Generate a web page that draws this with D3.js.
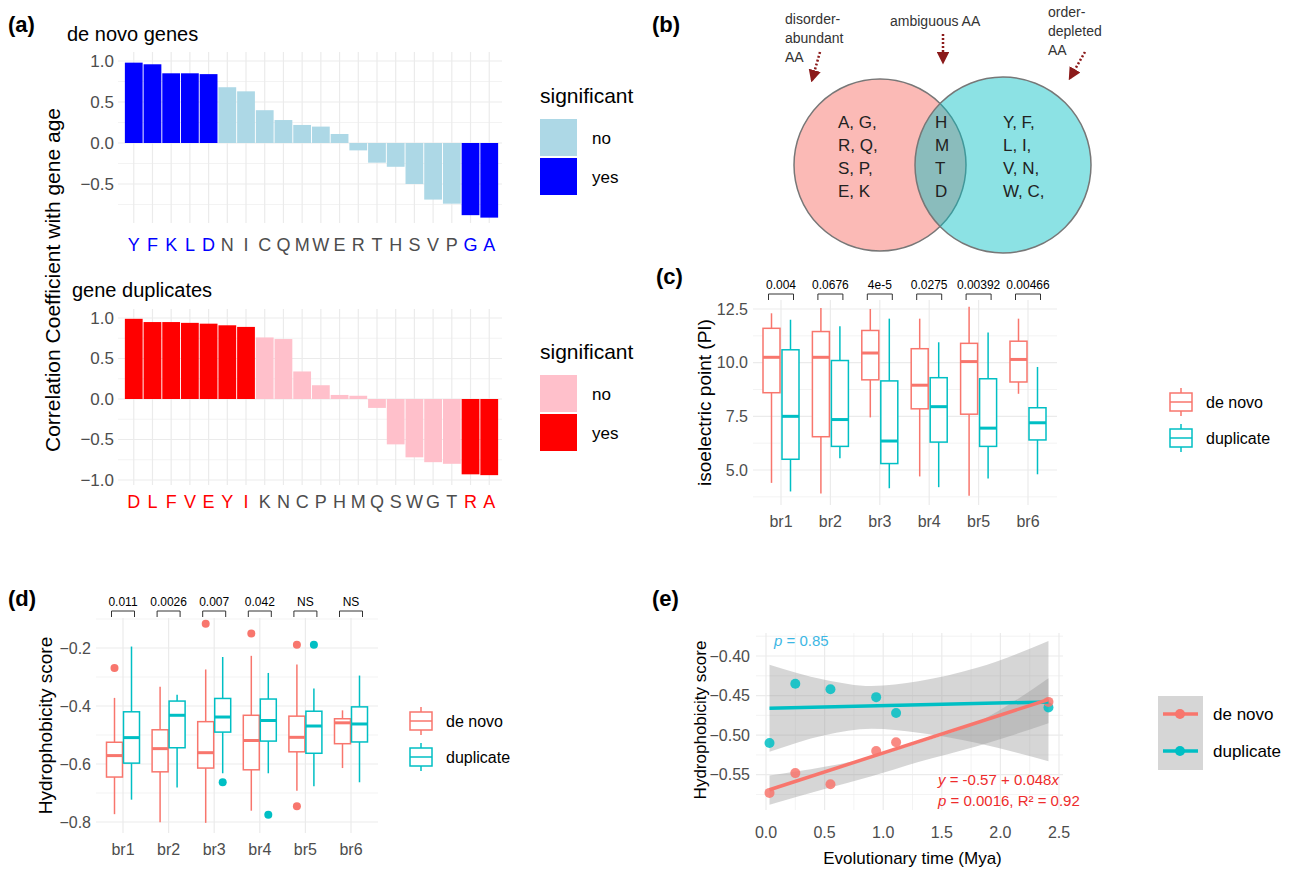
<!DOCTYPE html>
<html><head><meta charset="utf-8">
<script src="https://cdn.jsdelivr.net/npm/d3@7"></script>
<style>
body{margin:0;background:#fff;font-family:"Liberation Sans",Arial,sans-serif;}
.grid line{stroke:#ebebeb;}
</style></head><body>
<svg id="fig" width="1291" height="870"></svg>
<script>
// ---- data ----
const aaNovo = ['Y','F','K','L','D','N','I','C','Q','M','W','E','R','T','H','S','V','P','G','A'];
const corNovo = [0.98,0.96,0.85,0.85,0.84,0.68,0.63,0.40,0.28,0.22,0.20,0.11,-0.09,-0.24,-0.29,-0.50,-0.69,-0.74,-0.88,-0.91];
const sigNovo = [1,1,1,1,1,0,0,0,0,0,0,0,0,0,0,0,0,0,1,1];
const aaDup = ['D','L','F','V','E','Y','I','K','N','C','P','H','M','Q','S','W','G','T','R','A'];
const corDup = [0.99,0.95,0.95,0.94,0.93,0.91,0.89,0.76,0.74,0.34,0.17,0.05,0.04,-0.11,-0.56,-0.72,-0.78,-0.80,-0.93,-0.94];
const sigDup = [1,1,1,1,1,1,1,0,0,0,0,0,0,0,0,0,0,0,1,1];

const branches = ['br1','br2','br3','br4','br5','br6'];
// [low whisker, q1, median, q3, high whisker]
const piNovo = [[4.4,8.6,10.25,11.6,12.3],[3.9,6.55,10.25,11.45,12.55],[7.45,9.2,10.45,11.5,12.5],[4.7,7.85,8.95,10.65,12.05],[3.8,7.6,10.05,10.9,12.6],[8.55,9.1,10.15,11.0,12.05]];
const piDup = [[4.0,5.5,7.5,10.6,12.0],[5.55,6.1,7.35,10.1,11.7],[4.15,5.3,6.35,9.15,12.05],[4.2,6.3,7.95,9.3,10.95],[4.6,6.1,6.95,9.25,11.4],[4.8,6.4,7.2,7.9,9.8]];
const piP = ['0.004','0.0676','4e-5','0.0275','0.00392','0.00466'];

const hyNovo = [[-0.773,-0.645,-0.571,-0.525,-0.372],[-0.801,-0.627,-0.547,-0.482,-0.334],[-0.803,-0.614,-0.561,-0.454,-0.274],[-0.761,-0.62,-0.519,-0.432,-0.227],[-0.692,-0.558,-0.508,-0.435,-0.257],[-0.614,-0.53,-0.458,-0.444,-0.415]];
const hyDup = [[-0.723,-0.597,-0.509,-0.42,-0.195],[-0.681,-0.544,-0.432,-0.383,-0.361],[-0.632,-0.49,-0.438,-0.374,-0.231],[-0.632,-0.521,-0.45,-0.376,-0.286],[-0.677,-0.563,-0.469,-0.418,-0.34],[-0.663,-0.524,-0.462,-0.403,-0.295]];
const hyNovoOut = [[-0.269],[],[-0.116],[-0.150],[-0.189,-0.746],[]];
const hyDupOut = [[],[],[-0.663],[-0.775],[-0.189],[]];
const hyP = ['0.011','0.0026','0.007','0.042','NS','NS'];

const timeMya = [0.03,0.25,0.55,0.94,1.11,2.41];
const scoreNovo = [-0.573,-0.548,-0.562,-0.52,-0.509,-0.458];
const scoreDup = [-0.51,-0.435,-0.442,-0.452,-0.472,-0.465];
const fitNovo = [-0.569,-0.455];
const fitDup = [-0.466,-0.458];
const bandX = [0.03,0.5,0.9,1.3,1.8,2.41];
const bandNovoLo = [-0.588,-0.568,-0.552,-0.534,-0.514,-0.485];
const bandNovoHi = [-0.551,-0.540,-0.528,-0.510,-0.484,-0.428];
const bandDupLo = [-0.521,-0.500,-0.492,-0.497,-0.510,-0.533];
const bandDupHi = [-0.411,-0.430,-0.438,-0.432,-0.415,-0.381];

const RED = '#F8766D', TEAL = '#00BFC4';
const svg = d3.select('#fig');

function label(x, y, t){ svg.append('text').attr('x',x).attr('y',y).attr('font-size',22).attr('font-weight','bold').text(t); }
label(8,32,'(a)'); label(652,32,'(b)'); label(656,284,'(c)'); label(8,606,'(d)'); label(652,606,'(e)');

function gridY(g, y, x0, x1, ticks, minor){
  const gg = g.append('g').attr('class','grid');
  minor.forEach(v=>gg.append('line').attr('x1',x0).attr('x2',x1).attr('y1',y(v)).attr('y2',y(v)).attr('stroke-width',0.6));
  ticks.forEach(v=>gg.append('line').attr('x1',x0).attr('x2',x1).attr('y1',y(v)).attr('y2',y(v)).attr('stroke-width',1.2));
}
function tickLabels(g, y, x, ticks, fmt, fs){
  ticks.forEach(v=>g.append('text').attr('x',x).attr('y',y(v)).attr('dy','0.35em').attr('text-anchor','end')
    .attr('font-size',fs||16).attr('fill','#4d4d4d').text(fmt(v)));
}

// ---- panel a ----
function barPanel(o){
  const aa = o.aa;
  const x = d3.scaleBand().domain(aa).range([123,500]).paddingInner(0.05).paddingOuter(0.1);
  const y = d3.scaleLinear().domain([0,1]).range([o.y0,o.y1]);
  const g = svg.append('g');
  const gg = g.append('g').attr('class','grid');
  aa.forEach(a=>gg.append('line').attr('x1',x(a)+x.bandwidth()/2).attr('x2',x(a)+x.bandwidth()/2)
    .attr('y1',o.gTop).attr('y2',o.gBot).attr('stroke-width',1.2));
  gridY(g, y, 118, 502, o.ticks, o.minor);
  g.selectAll('rect.bar').data(o.cor).join('rect')
    .attr('x',(d,i)=>x(aa[i])).attr('width',x.bandwidth())
    .attr('y',d=>y(Math.max(0,d))).attr('height',d=>Math.abs(y(d)-y(0)))
    .attr('fill',(d,i)=>o.sig[i]?o.cHi:o.cLo);
  tickLabels(g, y, 114, o.ticks, d3.format('.1f'), 17);
  aa.forEach((a,i)=>g.append('text').attr('x',x(a)+x.bandwidth()/2).attr('y',o.labY).attr('text-anchor','middle')
    .attr('font-size',18).attr('fill',o.sig[i]?o.cHi:'#4d4d4d').text(a));
  g.append('text').attr('x',o.titleX).attr('y',o.titleY).attr('font-size',20).text(o.title);
  g.append('text').attr('x',540).attr('y',o.legY).attr('font-size',21).text('significant');
  [['no',o.cLo],['yes',o.cHi]].forEach((d,i)=>{
    g.append('rect').attr('x',540).attr('y',o.legY+16+i*39).attr('width',37).attr('height',37).attr('fill',d[1]);
    g.append('text').attr('x',592).attr('y',o.legY+35+i*39).attr('dy','0.35em').attr('font-size',17).text(d[0]);
  });
}
barPanel({aa:aaNovo, cor:corNovo, sig:sigNovo, y0:143, y1:61, ticks:[1.0,0.5,0,-0.5], minor:[0.75,0.25,-0.25,-0.75],
  gTop:52, gBot:223, labY:251, cLo:'#ADD8E6', cHi:'#0000FF', title:'de novo genes', titleX:67, titleY:41, legY:103});
barPanel({aa:aaDup, cor:corDup, sig:sigDup, y0:399, y1:318, ticks:[1.0,0.5,0,-0.5,-1.0], minor:[0.75,0.25,-0.25,-0.75],
  gTop:309, gBot:485, labY:508, cLo:'#FFC0CB', cHi:'#FF0000', title:'gene duplicates', titleX:72, titleY:297, legY:359});
svg.append('text').attr('transform','translate(60,280) rotate(-90)').attr('text-anchor','middle').attr('font-size',21).text('Correlation Coefficient with gene age');

// ---- panel b ----
{
  const g = svg.append('g');
  g.append('circle').attr('cx',880).attr('cy',165).attr('r',86).attr('fill',RED).attr('fill-opacity',0.5).attr('stroke','#777').attr('stroke-width',1.5);
  g.append('circle').attr('cx',1003).attr('cy',165).attr('r',88).attr('fill',TEAL).attr('fill-opacity',0.45).attr('stroke','#777').attr('stroke-width',1.5);
  const cols = [[838,['A, G,','R, Q,','S, P,','E, K']],[935,['H','M','T','D']],[1003,['Y, F,','L, I,','V, N,','W, C,']]];
  cols.forEach(c=>c[1].forEach((t,i)=>g.append('text').attr('x',c[0]).attr('y',128+i*23).attr('font-size',17).attr('fill','#222').text(t)));
  const defs = svg.append('defs');
  defs.append('marker').attr('id','ah').attr('viewBox','0 0 10 10').attr('refX',8).attr('refY',5).attr('markerWidth',5).attr('markerHeight',5).attr('orient','auto')
    .append('path').attr('d','M0,0L10,5L0,10z').attr('fill','#8B1A1A');
  [['disorder-','abundant','AA'],['order-','depleted','AA']].forEach((a,k)=>{
    a.forEach((t,i)=>g.append('text').attr('x',k?1048:785).attr('y',(k?17:24)+i*19).attr('font-size',14).attr('fill','#333').text(t));
  });
  g.append('text').attr('x',890).attr('y',26).attr('font-size',14).attr('fill','#333').text('ambiguous AA');
  [[820,52,812,80],[943,34,943,62],[1085,52,1070,78]].forEach(a=>g.append('line').attr('x1',a[0]).attr('y1',a[1]).attr('x2',a[2]).attr('y2',a[3])
    .attr('stroke','#8B1A1A').attr('stroke-width',2.5).attr('stroke-dasharray','2,2').attr('marker-end','url(#ah)'));
}

// ---- box panels ----
function boxPanel(opt){
  const g = svg.append('g');
  const x = d3.scalePoint().domain(branches).range(opt.xr);
  const y = d3.scaleLinear().domain(opt.yd).range(opt.yr);
  const gg = g.append('g').attr('class','grid');
  branches.forEach(b=>gg.append('line').attr('x1',x(b)).attr('x2',x(b)).attr('y1',opt.pt).attr('y2',opt.pb).attr('stroke-width',1.2));
  const minor = opt.ticks.slice(0,-1).map((v,i)=>(v+opt.ticks[i+1])/2).concat(opt.extraMinor);
  minor.forEach(v=>gg.append('line').attr('x1',opt.pl).attr('x2',opt.pr).attr('y1',y(v)).attr('y2',y(v)).attr('stroke-width',0.6));
  opt.ticks.forEach(v=>gg.append('line').attr('x1',opt.pl).attr('x2',opt.pr).attr('y1',y(v)).attr('y2',y(v)).attr('stroke-width',1.2));
  [[opt.novo,RED,-opt.off,opt.novoOut],[opt.dup,TEAL,opt.off,opt.dupOut]].forEach(s=>{
    s[0].forEach((q,i)=>{
      const cx = x(branches[i])+s[2], w = opt.bw;
      g.append('line').attr('x1',cx).attr('x2',cx).attr('y1',y(q[0])).attr('y2',y(q[1])).attr('stroke',s[1]).attr('stroke-width',1.5);
      g.append('line').attr('x1',cx).attr('x2',cx).attr('y1',y(q[3])).attr('y2',y(q[4])).attr('stroke',s[1]).attr('stroke-width',1.5);
      g.append('rect').attr('x',cx-w/2).attr('width',w).attr('y',y(q[3])).attr('height',y(q[1])-y(q[3])).attr('fill','#fff').attr('stroke',s[1]).attr('stroke-width',1.5);
      g.append('line').attr('x1',cx-w/2).attr('x2',cx+w/2).attr('y1',y(q[2])).attr('y2',y(q[2])).attr('stroke',s[1]).attr('stroke-width',3);
      if(s[3]) s[3][i].forEach(v=>g.append('circle').attr('cx',cx).attr('cy',y(v)).attr('r',4).attr('fill',s[1]));
    });
  });
  opt.p.forEach((t,i)=>{
    const cx = x(branches[i]);
    g.append('path').attr('d',`M${cx-opt.off-3},${opt.brY+6}V${opt.brY}H${cx+opt.off+3}V${opt.brY+6}`).attr('fill','none').attr('stroke','#333').attr('stroke-width',1);
    g.append('text').attr('x',cx).attr('y',opt.brY-5).attr('text-anchor','middle').attr('font-size',12).text(t);
  });
  tickLabels(g, y, opt.pl-5, opt.ticks, opt.fmt, 16);
  branches.forEach(b=>g.append('text').attr('x',x(b)).attr('y',opt.pb+22).attr('text-anchor','middle').attr('font-size',16).attr('fill','#4d4d4d').text(b));
  g.append('text').attr('transform',`translate(${opt.titleX},${(opt.pt+opt.pb)/2}) rotate(-90)`).attr('text-anchor','middle').attr('font-size',opt.titleFs).text(opt.title);
  [['de novo',RED],['duplicate',TEAL]].forEach((d,i)=>{
    const ly = opt.legY + i*36, lx = opt.legX;
    g.append('line').attr('x1',lx+11).attr('x2',lx+11).attr('y1',ly-14).attr('y2',ly+14).attr('stroke',d[1]).attr('stroke-width',1.5);
    g.append('rect').attr('x',lx).attr('y',ly-9).attr('width',22).attr('height',18).attr('fill','#fff').attr('stroke',d[1]).attr('stroke-width',1.5);
    g.append('line').attr('x1',lx).attr('x2',lx+22).attr('y1',ly).attr('y2',ly).attr('stroke',d[1]).attr('stroke-width',1.5);
    g.append('text').attr('x',lx+36).attr('y',ly).attr('dy','0.35em').attr('font-size',16).text(d[0]);
  });
}
boxPanel({novo:piNovo,dup:piDup,p:piP,xr:[781,1028],yd:[5,12.5],yr:[470,309],ticks:[12.5,10,7.5,5],extraMinor:[3.75],
  pl:753,pr:1057,pt:300,pb:505,off:9.5,bw:17,brY:294,fmt:d3.format('.1f'),title:'isoelectric point (PI)',titleFs:19,titleX:711,legX:1170,legY:402});
boxPanel({novo:hyNovo,dup:hyDup,novoOut:hyNovoOut,dupOut:hyDupOut,p:hyP,xr:[123,351],yd:[-0.8,-0.2],yr:[822,648],ticks:[-0.2,-0.4,-0.6,-0.8],extraMinor:[-0.1],
  pl:96,pr:378,pt:618,pb:833,off:8.5,bw:16,brY:611,fmt:d3.format('.1f'),title:'Hydrophobicity score',titleFs:19,titleX:52,legX:410,legY:721});

// ---- panel e ----
{
  const g = svg.append('g');
  const x = d3.scaleLinear().domain([0,2.5]).range([766,1059]);
  const y = d3.scaleLinear().domain([-0.55,-0.40]).range([774.7,656]);
  const gg = g.append('g').attr('class','grid');
  [0.25,0.75,1.25,1.75,2.25].forEach(v=>gg.append('line').attr('x1',x(v)).attr('x2',x(v)).attr('y1',633).attr('y2',810).attr('stroke-width',0.6));
  [0,0.5,1,1.5,2,2.5].forEach(v=>gg.append('line').attr('x1',x(v)).attr('x2',x(v)).attr('y1',633).attr('y2',810).attr('stroke-width',1.2));
  [-0.375,-0.425,-0.475,-0.525,-0.575].forEach(v=>gg.append('line').attr('x1',756).attr('x2',1063).attr('y1',y(v)).attr('y2',y(v)).attr('stroke-width',0.6));
  [-0.40,-0.45,-0.50,-0.55].forEach(v=>gg.append('line').attr('x1',756).attr('x2',1063).attr('y1',y(v)).attr('y2',y(v)).attr('stroke-width',1.2));
  const area = d3.area().x((d,i)=>x(bandX[i])).y0(d=>y(d[0])).y1(d=>y(d[1])).curve(d3.curveMonotoneX);
  [[bandDupLo,bandDupHi],[bandNovoLo,bandNovoHi]].forEach(b=>g.append('path').datum(b[0].map((v,i)=>[v,b[1][i]])).attr('d',area).attr('fill','#999').attr('fill-opacity',0.4));
  [[timeMya,scoreDup,TEAL],[timeMya,scoreNovo,RED]].forEach(s=>s[1].forEach((v,i)=>g.append('circle').attr('cx',x(s[0][i])).attr('cy',y(v)).attr('r',5).attr('fill',s[2]).attr('fill-opacity',0.85)));
  [[fitDup,TEAL],[fitNovo,RED]].forEach(f=>g.append('line').attr('x1',x(timeMya[0])).attr('x2',x(timeMya[5])).attr('y1',y(f[0][0])).attr('y2',y(f[0][1])).attr('stroke',f[1]).attr('stroke-width',3.5));
  tickLabels(g, y, 750, [-0.40,-0.45,-0.50,-0.55], d3.format('.2f'), 16);
  [0,0.5,1,1.5,2,2.5].forEach(v=>g.append('text').attr('x',x(v)).attr('y',832).attr('dy','0.35em').attr('text-anchor','middle').attr('font-size',16).attr('fill','#4d4d4d').text(d3.format('.1f')(v)));
  g.append('text').attr('x',x(1.25)).attr('y',864).attr('text-anchor','middle').attr('font-size',17).text('Evolutionary time (Mya)');
  g.append('text').attr('transform','translate(706,720) rotate(-90)').attr('text-anchor','middle').attr('font-size',17).text('Hydrophobicity score');
  const t1 = g.append('text').attr('x',774).attr('y',646).attr('font-size',15).attr('fill','#3DB7E4');
  t1.append('tspan').attr('font-style','italic').text('p'); t1.append('tspan').text(' = 0.85');
  const t2 = g.append('text').attr('x',938).attr('y',785).attr('font-size',15).attr('fill','#EE2C2C');
  t2.append('tspan').attr('font-style','italic').text('y'); t2.append('tspan').text(' = -0.57 + 0.048'); t2.append('tspan').attr('font-style','italic').text('x');
  const t3 = g.append('text').attr('x',938).attr('y',806).attr('font-size',15).attr('fill','#EE2C2C');
  t3.append('tspan').attr('font-style','italic').text('p'); t3.append('tspan').text(' = 0.0016, R² = 0.92');
  [['de novo',RED],['duplicate',TEAL]].forEach((d,i)=>{
    const ly = 714+i*37;
    g.append('rect').attr('x',1158).attr('y',ly-18).attr('width',45).attr('height',37).attr('fill','#999').attr('fill-opacity',0.4);
    g.append('line').attr('x1',1163).attr('x2',1198).attr('y1',ly).attr('y2',ly).attr('stroke',d[1]).attr('stroke-width',3.5);
    g.append('circle').attr('cx',1180).attr('cy',ly).attr('r',5).attr('fill',d[1]);
    g.append('text').attr('x',1213).attr('y',ly).attr('dy','0.35em').attr('font-size',17).text(d[0]);
  });
}
</script></body></html>
